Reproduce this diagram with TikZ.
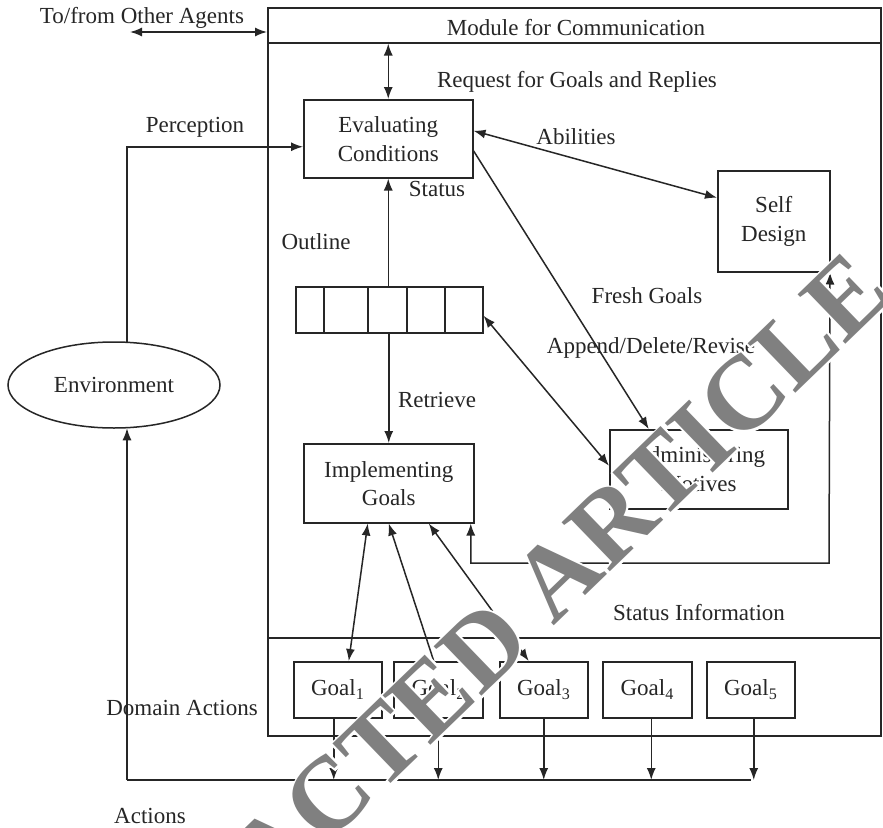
\documentclass[tikz,border=0pt]{standalone}
\usepackage{fontspec}
\setmainfont{Liberation Serif}
\newfontfamily\wmfont{Liberation Serif Bold}
\newfontfamily\wmhalo[FakeBold=4]{Liberation Serif Bold}
\usetikzlibrary{arrows.meta,calc,shapes.geometric}
\begin{document}
\begin{tikzpicture}[x=1pt,y=-1pt,
  every node/.style={font=\fontsize{23}{27}\selectfont, text=black!85},
  ln/.style={draw=black!85, line width=1.5pt},
  arr/.style={ln, -{Latex[length=12pt,width=9pt]}},
  darr/.style={ln, {Latex[length=12pt,width=9pt]}-{Latex[length=12pt,width=9pt]}},
  box/.style={ln, rectangle, inner sep=0pt, align=center, anchor=north west},
  lbl/.style={inner sep=0pt},
  wmark/.style={inner sep=0pt, rotate=44}
]
\useasboundingbox (0,0) rectangle (883,827);
\fill[white] (0,0) rectangle (883,827);

% containers
\node[box, minimum width=613pt, minimum height=728pt] (agent) at (267,7) {};
\node[box, minimum width=613pt, minimum height=35pt] (comm) at (267,7) {};
\node[lbl] (commt) at (576,28) {Module for Communication};
\node[box, minimum width=613pt, minimum height=98pt] (goalarea) at (267,637) {};

% main nodes
\node[box, minimum width=169pt, minimum height=78pt] (eval) at (303,99) {Evaluating\\[2pt]Conditions};
\node[box, minimum width=112pt, minimum height=101pt] (self) at (717,170) {Self\\[2pt]Design};
\node[box, minimum width=187pt, minimum height=46pt] (queue) at (295,286) {};
\foreach \x in {324,368,407,445}{
  \draw[ln] (\x,286) -- (\x,332);
}
\node[box, minimum width=170pt, minimum height=79pt] (impl) at (303,443) {Implementing\\[1pt]Goals};
\node[box, minimum width=178pt, minimum height=79pt] (admin) at (609,429) {Administering\\[2pt]Motives};
\node[ln, ellipse, minimum width=212pt, minimum height=86pt, inner sep=0pt] (env) at (114,385) {Environment};

\node[box, minimum width=88pt, minimum height=56pt] (g1) at (293,661) {Goal\textsubscript{1}};
\node[box, minimum width=89pt, minimum height=56pt] (g2) at (393,661) {Goal\textsubscript{2}};
\node[box, minimum width=88pt, minimum height=56pt] (g3) at (499,661) {Goal\textsubscript{3}};
\node[box, minimum width=89pt, minimum height=56pt] (g4) at (602,661) {Goal\textsubscript{4}};
\node[box, minimum width=88pt, minimum height=56pt] (g5) at (706,661) {Goal\textsubscript{5}};

% coordinates
\coordinate (oa) at (130,32);
\coordinate (busL) at (127,780);
\coordinate (loopc) at (829,563);

% connectors
\draw[darr] (oa) -- (oa -| comm.west);
\draw[darr] (eval.north |- comm.south) -- (eval.north);
\draw[arr] ($(env.north)+(13,0.5)$) |- ($(eval.west)+(0,8)$);
\draw[arr] (queue.north -| eval.south) -- (eval.south);
\draw[arr] (queue.south -| impl.north) -- (impl.north);
\draw[darr] ($(eval.east)+(0,-8)$) -- ($(self.west)+(0,-23.5)$);
\draw[arr] ($(eval.east)+(0,12)$) -- ($(admin.north)+(-50,0)$);
\draw[darr] ($(queue.east)+(0,6)$) -- ($(admin.west)+(0,-3.5)$);
\draw[darr] ($(impl.south)+(82,0)$) |- (loopc) -- ($(self.south east)+(-0.5,0)$);
\draw[darr] ($(impl.south)+(-21,0)$) -- ($(g1.north)+(11,0)$);
\draw[arr] ($(g2.north)+(-4.5,0)$) -- (impl.south);
\draw[darr] ($(impl.south)+(40,0)$) -- ($(g3.north)+(-15,0)$);

\draw[arr] (busL) -- ($(env.south)+(13,-0.5)$);
\draw[ln] (busL) -- (busL -| g5.south);
\foreach \g/\d in {g1/-4,g2/0,g3/0,g4/4,g5/3}{
  \draw[arr] ($(\g.south)+(\d,0)$) -- ($(\g.south |- busL)+(\d,0)$);
}

% labels
\node[lbl] (l1) at (142,18) {To/from Other Agents};
\node[lbl] (l2) at (195,127) {Perception};
\node[lbl] (l3) at (577,82) {Request for Goals and Replies};
\node[lbl] (l4) at (576,137) {Abilities};
\node[lbl] (l5) at (437,189) {Status};
\node[lbl] (l6) at (316,242) {Outline};
\node[lbl] (l7) at (647,296) {Fresh Goals};
\node[lbl] (l8) at (651,348) {Append/Delete/Revise};
\node[lbl] (l9) at (437,400) {Retrieve};
\node[lbl] (l10) at (699,613) {Status Information};
\node[lbl] (l11) at (182,708) {Domain Actions};
\node[lbl] (l12) at (150,816) {Actions};

% watermark (white halo, then grey letters)
\node[wmark, font=\wmhalo\fontsize{105}{105}\selectfont, text=white] (wmh) at (454,675) {RETRACTED ARTICLE};
\node[wmark, font=\wmfont\fontsize{105}{105}\selectfont, text=black!50] (wm) at (454,675) {RETRACTED ARTICLE};
\end{tikzpicture}
\end{document}
